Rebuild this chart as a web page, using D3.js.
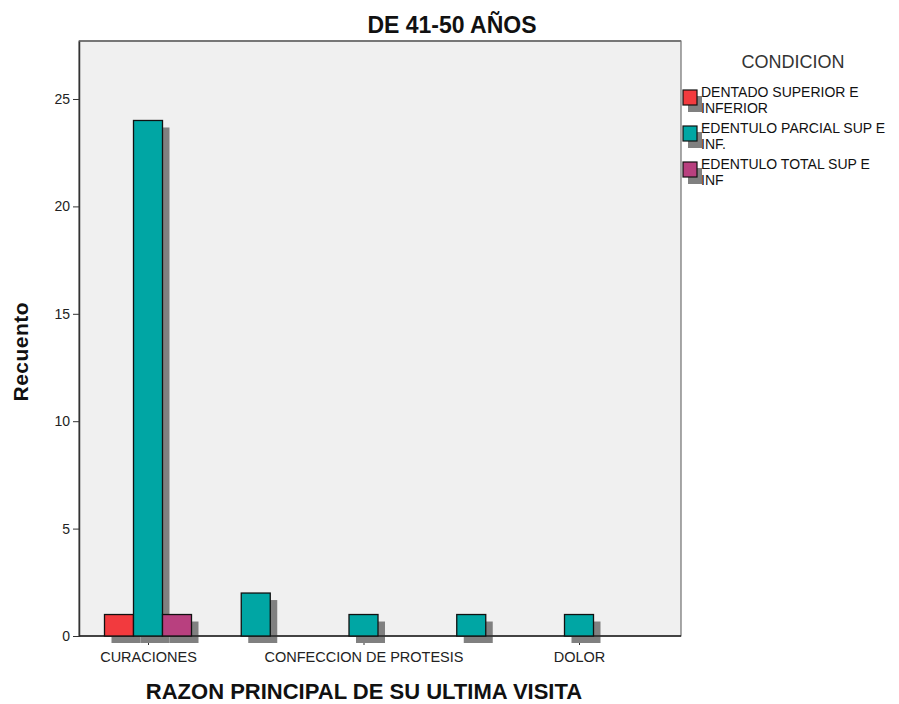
<!DOCTYPE html>
<html><head><meta charset="utf-8">
<script src="https://cdn.jsdelivr.net/npm/d3@7"></script>
<style>body{margin:0;background:#fff;} svg{display:block;font-family:Arial,"Liberation Sans",sans-serif;}</style>
</head><body>
<script>
const categories = ["CURACIONES","EXTRACCION","CONFECCION DE PROTESIS","LIMPIEZA","DOLOR"];
const shownLabels = ["CURACIONES","CONFECCION DE PROTESIS","DOLOR"];
const seriesNames = ["DENTADO SUPERIOR E INFERIOR","EDENTULO PARCIAL SUP E INF.","EDENTULO TOTAL SUP E INF"];
const legendLines = [["DENTADO SUPERIOR E","INFERIOR"],["EDENTULO PARCIAL SUP E","INF."],["EDENTULO TOTAL SUP E","INF"]];
const dentado = [1,0,0,0,0];
const parcial = [24,2,1,1,1];
const total   = [1,0,0,0,0];
const yTicks = [0,5,10,15,20,25];
const colors = ["#f23a3e","#00a6a4","#b8407f"];

const W=899,H=704;
const svg=d3.select("body").append("svg").attr("width",W).attr("height",H);
const plot={l:79,r:681,t:41,b:636};
const y=d3.scaleLinear().domain([0,27.7]).range([plot.b,plot.t]);
const x=d3.scalePoint().domain(categories).range([148,579]);
const barW=29;

svg.append("rect").attr("x",plot.l).attr("y",plot.t).attr("width",plot.r-plot.l).attr("height",plot.b-plot.t)
  .attr("fill","#f0f0f0").attr("stroke","#555").attr("stroke-width",1);
svg.append("line").attr("x1",plot.l).attr("x2",plot.r).attr("y1",plot.t).attr("y2",plot.t).attr("stroke","#777").attr("stroke-width",2);

const series=[dentado,parcial,total];
const bars=[];
categories.forEach((c,i)=>{
  const present=series.map((s,k)=>({k,v:s[i]})).filter(d=>d.v>0);
  const n=present.length;
  present.forEach((d,j)=>{
    const cx=x(c)+(j-(n-1)/2)*barW;
    bars.push({x:cx-barW/2,v:d.v,k:d.k});
  });
});

// x ticks (only labelled categories)
const xAxis=d3.axisBottom(x).tickSize(9).tickSizeOuter(0).tickPadding(7).tickFormat(d=>shownLabels.includes(d)?d:"");
const gx=svg.append("g").attr("transform",`translate(0,${plot.b})`).call(xAxis);
gx.select(".domain").remove();
gx.selectAll(".tick").filter(d=>!shownLabels.includes(d)).select("line").remove();
gx.selectAll(".tick line").attr("stroke","#333");
gx.selectAll("text").attr("font-size",14.5).attr("fill","#222");

// shadows
svg.append("g").selectAll("rect").data(bars).join("rect")
  .attr("x",d=>d.x+7).attr("y",d=>y(d.v)+7).attr("width",barW).attr("height",d=>y(0)-y(d.v))
  .attr("fill","#808080");

// y axis
const yAxis=d3.axisLeft(y).tickValues(yTicks).tickSize(6).tickSizeOuter(0).tickPadding(3);
const gy=svg.append("g").attr("transform",`translate(${plot.l},0)`).call(yAxis);
gy.select(".domain").attr("stroke","#333").attr("stroke-width",1.5);
gy.selectAll(".tick line").attr("stroke","#333");
gy.selectAll("text").attr("font-size",14).attr("fill","#222");

svg.append("line").attr("x1",plot.l).attr("x2",plot.r).attr("y1",plot.b).attr("y2",plot.b).attr("stroke","#222").attr("stroke-width",1.5);

svg.append("g").selectAll("rect").data(bars).join("rect")
  .attr("x",d=>d.x).attr("y",d=>y(d.v)).attr("width",barW).attr("height",d=>y(0)-y(d.v))
  .attr("fill",d=>colors[d.k]).attr("stroke","#111").attr("stroke-width",1.3);

// titles
svg.append("text").attr("x",452).attr("y",33).attr("text-anchor","middle").attr("font-size",23).attr("font-weight","bold").attr("fill","#111").text("DE 41-50 AÑOS");
svg.append("text").attr("transform","translate(28,352) rotate(-90)").attr("text-anchor","middle").attr("font-size",21).attr("font-weight","bold").attr("fill","#111")
  .attr("textLength",99).attr("lengthAdjust","spacing").text("Recuento");
svg.append("text").attr("x",364).attr("y",699).attr("text-anchor","middle").attr("font-size",22).attr("font-weight","bold").attr("fill","#111").text("RAZON PRINCIPAL DE SU ULTIMA VISITA");

// legend
svg.append("text").attr("x",793).attr("y",68).attr("text-anchor","middle").attr("font-size",18).attr("fill","#333").text("CONDICION");
const lg=svg.append("g").selectAll("g").data(seriesNames).join("g").attr("transform",(d,i)=>`translate(683,${90+i*36})`);
lg.append("rect").attr("x",5).attr("y",6).attr("width",14).attr("height",16).attr("fill","#808080");
lg.append("rect").attr("x",0).attr("y",0).attr("width",14).attr("height",15).attr("fill",(d,i)=>colors[i]).attr("stroke","#111").attr("stroke-width",1.2);
lg.each(function(d,i){
  const t=d3.select(this).append("text").attr("x",18).attr("y",7).attr("font-size",14).attr("fill","#111");
  legendLines[i].forEach((ln,j)=>t.append("tspan").attr("x",18).attr("dy",j===0?0:16).text(ln));
});
</script>
</body></html>
